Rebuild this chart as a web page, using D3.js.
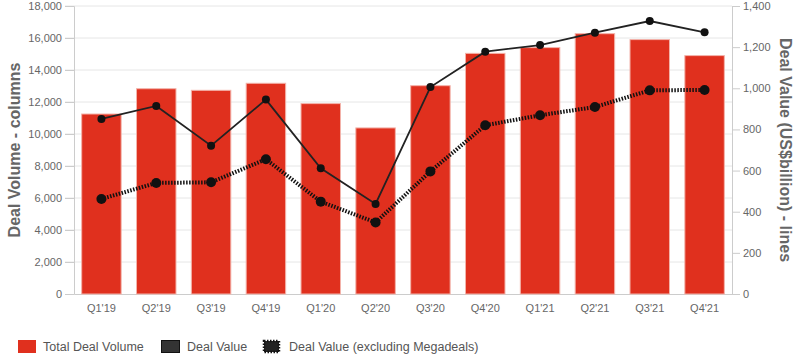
<!DOCTYPE html>
<html>
<head>
<meta charset="utf-8">
<script src="https://cdn.jsdelivr.net/npm/d3@7"></script>
<style>
  body { margin: 0; background: #fff; font-family: "Liberation Sans", Arial, sans-serif; }
  svg { display: block; }
  .tick text { fill: #666; font-size: 11px; }
</style>
</head>
<body>
<svg id="chart" width="800" height="362"></svg>
<script>
const quarters = ["Q1'19", "Q2'19", "Q3'19", "Q4'19", "Q1'20", "Q2'20", "Q3'20", "Q4'20", "Q1'21", "Q2'21", "Q3'21", "Q4'21"];
const dealVolume = [11250, 12830, 12730, 13170, 11900, 10380, 13020, 15040, 15400, 16270, 15900, 14900];
const dealValue = [851, 914, 721, 945, 611, 438, 1006, 1178, 1210, 1270, 1327, 1272];
const dealValueExMega = [462, 540, 543, 655, 449, 348, 596, 820, 869, 909, 990, 992];
const volumeTicks = [0, 2000, 4000, 6000, 8000, 10000, 12000, 14000, 16000, 18000];
const valueTicks = [0, 200, 400, 600, 800, 1000, 1200, 1400];

const svg = d3.select('#chart');
const m = { left: 74, right: 732, top: 6, bottom: 294 };

const x = d3.scaleBand().domain(quarters).range([m.left, m.right]).paddingInner(0.28).paddingOuter(0.14);
const yL = d3.scaleLinear().domain([0, 18000]).range([m.bottom, m.top]);
const yR = d3.scaleLinear().domain([0, 1400]).range([m.bottom, m.top]);

// gridlines
svg.append('g')
    .selectAll('line')
    .data(volumeTicks.slice(1))
    .enter()
    .append('line')
    .attr('x1', m.left - 9).attr('x2', m.right)
    .attr('y1', d => yL(d)).attr('y2', d => yL(d))
    .attr('stroke', '#e6e6e6');

// left axis
const leftAxis = svg.append('g')
    .attr('transform', `translate(${m.left},0)`)
    .call(d3.axisLeft(yL).tickValues(volumeTicks).tickFormat(d3.format(',')).tickSize(9).tickPadding(3));
leftAxis.select('.domain').attr('stroke', '#ccc');
leftAxis.selectAll('.tick line').attr('stroke', '#ccc');

// right axis
const rightAxis = svg.append('g')
    .attr('transform', `translate(${m.right},0)`)
    .call(d3.axisRight(yR).tickValues(valueTicks).tickFormat(d3.format(',')).tickSize(8).tickPadding(3));
rightAxis.select('.domain').attr('stroke', '#ccc');
rightAxis.selectAll('.tick line').attr('stroke', '#ccc');

// bottom axis
const bottomAxis = svg.append('g')
    .attr('transform', `translate(0,${m.bottom})`)
    .call(d3.axisBottom(x).tickSize(0).tickPadding(10));
bottomAxis.select('.domain').attr('stroke', '#ccc');

// bars
svg.append('g')
    .selectAll('rect')
    .data(dealVolume)
    .enter()
    .append('rect')
    .attr('x', (d, i) => x(quarters[i]))
    .attr('y', d => yL(d))
    .attr('width', x.bandwidth())
    .attr('height', d => yL(0) - yL(d))
    .attr('fill', '#e0301e')
    .attr('stroke', '#f3b3aa')
    .attr('stroke-width', 1);

const line = d3.line()
    .x((d, i) => x(quarters[i]) + x.bandwidth() / 2)
    .y(d => yR(d));

// excl. megadeals (dotted)
svg.append('path')
    .datum(dealValueExMega)
    .attr('d', line)
    .attr('fill', 'none')
    .attr('stroke', '#111')
    .attr('stroke-width', 4)
    .attr('stroke-dasharray', '1.5,1.5');
svg.append('g')
    .selectAll('circle')
    .data(dealValueExMega)
    .enter()
    .append('circle')
    .attr('cx', (d, i) => x(quarters[i]) + x.bandwidth() / 2)
    .attr('cy', d => yR(d))
    .attr('r', 5)
    .attr('fill', '#111');

// deal value (solid)
svg.append('path')
    .datum(dealValue)
    .attr('d', line)
    .attr('fill', 'none')
    .attr('stroke', '#222')
    .attr('stroke-width', 1.8);
svg.append('g')
    .selectAll('circle')
    .data(dealValue)
    .enter()
    .append('circle')
    .attr('cx', (d, i) => x(quarters[i]) + x.bandwidth() / 2)
    .attr('cy', d => yR(d))
    .attr('r', 4)
    .attr('fill', '#111');

// axis titles
svg.append('text')
    .attr('transform', `translate(20,${(m.top + m.bottom) / 2}) rotate(-90)`)
    .attr('text-anchor', 'middle')
    .attr('font-size', '16px')
    .attr('font-weight', 'bold')
    .attr('fill', '#666')
    .text('Deal Volume - columns');
svg.append('text')
    .attr('transform', `translate(780,${(m.top + m.bottom) / 2}) rotate(90)`)
    .attr('text-anchor', 'middle')
    .attr('font-size', '16px')
    .attr('font-weight', 'bold')
    .attr('fill', '#666')
    .text('Deal Value (US$billion) - lines');

// legend
const legend = svg.append('g').attr('font-size', '12.5px').attr('fill', '#555');
legend.append('rect').attr('x', 18).attr('y', 340).attr('width', 18).attr('height', 13).attr('fill', '#e0301e');
legend.append('text').attr('x', 43).attr('y', 351).text('Total Deal Volume');
legend.append('rect').attr('x', 161.5).attr('y', 340.5).attr('width', 18).attr('height', 12).attr('fill', '#333').attr('stroke', '#111');
legend.append('text').attr('x', 187).attr('y', 351).text('Deal Value');
legend.append('rect').attr('x', 264).attr('y', 341).attr('width', 15).attr('height', 11)
    .attr('fill', '#222').attr('stroke', '#111').attr('stroke-width', 2.5).attr('stroke-dasharray', '1.5,1.5');
legend.append('text').attr('x', 289).attr('y', 351).text('Deal Value (excluding Megadeals)');
</script>
</body>
</html>
